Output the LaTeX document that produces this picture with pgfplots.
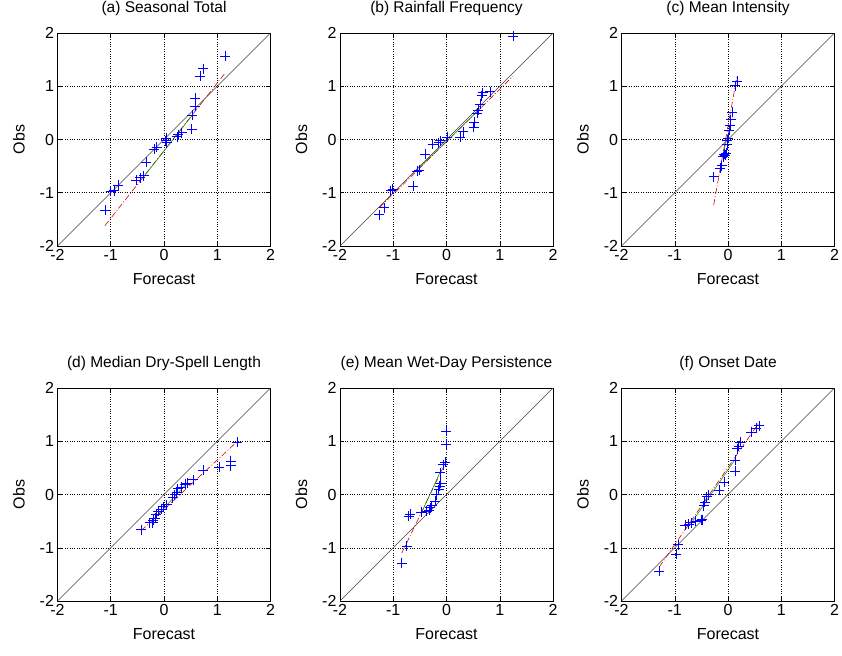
\documentclass[border=0pt]{standalone}
\usepackage{fontspec}
\setmainfont{Liberation Sans}
\usepackage{pgfplots}
\pgfplotsset{compat=1.18}
\pgfplotsset{qq/.style={
  scale only axis, width=213pt, height=213pt,
  xmin=-2,xmax=2,ymin=-2,ymax=2,
  xtick={-2,-1,0,1,2}, ytick={-2,-1,0,1,2},
  grid=major, major grid style={black, dotted, line width=0.5pt},
  tick align=inside, major tick length=4pt, tick style={black,line width=0.5pt},
  axis line style={black,line width=0.7pt},
  /pgf/number format/assume math mode=true,
  tick label style={font=\fontsize{16}{18}\selectfont},
  label style={font=\fontsize{16}{18}\selectfont},
  title style={font=\fontsize{15.5}{18}\selectfont, at={(axis description cs:0.5,1.085)}, anchor=center},
  xlabel=Forecast, ylabel=Obs,
  xlabel style={at={(axis description cs:0.5,-0.157)}, anchor=center},
  ylabel style={at={(axis description cs:-0.181,0.5)}, anchor=center},
}}
\tikzset{
  diagline/.style={black!75, line width=0.5pt},
  fitline/.style={red!85!black, dash pattern=on 6pt off 2pt on 1pt off 2pt, line width=0.6pt},
  quartline/.style={green!55!black, line width=0.5pt},
  pts/.style={only marks, mark=+, mark size=5pt, color=blue, mark options={solid, draw=blue, line width=0.7pt}},
}
\begin{document}
\begin{tikzpicture}
\useasboundingbox (0,0) rectangle (842pt,-655pt);
% (a)
\begin{axis}[qq, at={(57.5pt,-33pt)}, anchor=north west, title={(a) Seasonal Total}]
\addplot[diagline] coordinates {(-2,-2)(2,2)};
\addplot[fitline] coordinates {(-1.11,-1.62)(1.15,1.25)};
\addplot[quartline] coordinates {(-0.39,-0.71)(0.55,0.48)};
\addplot[pts] coordinates {
(-1.11,-1.33)(-1.00,-0.97)(-0.93,-0.96)(-0.86,-0.86)(-0.52,-0.77)(-0.45,-0.72)
(-0.38,-0.68)(-0.33,-0.43)(-0.19,-0.18)(-0.14,-0.14)(0.03,-0.02)(0.04,0.03)
(0.05,-0.06)(0.25,0.05)(0.27,0.09)(0.33,0.13)(0.52,0.19)(0.53,0.46)
(0.58,0.62)(0.59,0.77)(0.68,1.19)(0.74,1.33)(1.15,1.57)};
\end{axis}
% (b)
\begin{axis}[qq, at={(340pt,-33pt)}, anchor=north west, title={(b) Rainfall Frequency}]
\addplot[diagline] coordinates {(-2,-2)(2,2)};
\addplot[fitline] coordinates {(-1.26,-1.28)(1.25,1.19)};
\addplot[quartline] coordinates {(-0.5,-0.52)(0.6,0.55)};
\addplot[pts] coordinates {
(-1.26,-1.41)(-1.17,-1.28)(-1.05,-0.96)(-1.01,-0.93)(-0.62,-0.88)(-0.55,-0.60)
(-0.51,-0.58)(-0.40,-0.27)(-0.26,-0.09)(-0.15,-0.06)(-0.12,-0.02)(0.01,0.04)
(0.26,0.04)(0.31,0.15)(0.51,0.23)(0.52,0.33)(0.57,0.50)(0.60,0.55)
(0.63,0.66)(0.66,0.82)(0.68,0.88)(0.82,0.90)(1.25,1.94)};
\end{axis}
% (c)
\begin{axis}[qq, at={(621.5pt,-33pt)}, anchor=north west, title={(c) Mean Intensity}]
\addplot[diagline] coordinates {(-2,-2)(2,2)};
\addplot[fitline] coordinates {(-0.27,-1.23)(0.17,1.19)};
\addplot[quartline] coordinates {(-0.1,-0.3)(0.05,0.3)};
\addplot[pts] coordinates {
(-0.27,-0.70)(-0.15,-0.54)(-0.12,-0.49)(-0.09,-0.32)(-0.07,-0.28)(-0.04,-0.26)
(-0.05,-0.30)(-0.02,-0.10)(-0.01,-0.01)(0.00,0.02)(0.02,0.18)(0.04,0.27)
(0.05,0.37)(0.08,0.51)(0.13,1.01)(0.17,1.09)};
\end{axis}
% (d)
\begin{axis}[qq, at={(57.5pt,-388pt)}, anchor=north west, title={(d) Median Dry-Spell Length}]
\addplot[diagline] coordinates {(-2,-2)(2,2)};
\addplot[fitline] coordinates {(-0.43,-0.68)(1.38,1.0)};
\addplot[quartline] coordinates {(-0.2,-0.47)(0.42,0.2)};
\addplot[pts] coordinates {
(-0.43,-0.66)(-0.27,-0.53)(-0.21,-0.53)(-0.20,-0.48)(-0.16,-0.44)(-0.15,-0.375)
(-0.11,-0.31)(-0.05,-0.27)(-0.01,-0.23)(0.05,-0.19)(0.16,-0.06)(0.20,0.00)
(0.24,0.04)(0.26,0.11)(0.32,0.14)(0.40,0.19)(0.43,0.21)(0.55,0.28)
(0.74,0.46)(1.04,0.51)(1.25,0.54)(1.25,0.63)(1.38,0.98)};
\end{axis}
% (e)
\begin{axis}[qq, at={(340pt,-388pt)}, anchor=north west, title={(e) Mean Wet-Day Persistence}]
\addplot[diagline] coordinates {(-2,-2)(2,2)};
\addplot[fitline] coordinates {(-0.84,-1.1)(-0.01,0.62)};
\addplot[quartline] coordinates {(-0.45,-0.3)(-0.13,0.4)};
\addplot[pts] coordinates {
(-0.84,-1.29)(-0.75,-0.97)(-0.71,-0.41)(-0.68,-0.375)(-0.48,-0.33)(-0.37,-0.31)
(-0.32,-0.29)(-0.31,-0.25)(-0.28,-0.21)(-0.21,-0.125)(-0.19,0.00)(-0.15,0.09)
(-0.13,0.16)(-0.11,0.21)(-0.12,0.41)(-0.06,0.56)(-0.03,0.61)(-0.01,0.94)
(-0.01,1.19)};
\end{axis}
% (f)
\begin{axis}[qq, at={(621.5pt,-388pt)}, anchor=north west, title={(f) Onset Date}]
\addplot[diagline] coordinates {(-2,-2)(2,2)};
\addplot[fitline] coordinates {(-1.29,-1.36)(0.59,1.36)};
\addplot[quartline] coordinates {(-0.7,-0.55)(0.15,0.68)};
\addplot[pts] coordinates {
(-1.29,-1.44)(-0.97,-1.125)(-0.93,-0.94)(-0.80,-0.58)(-0.74,-0.56)(-0.69,-0.53)
(-0.61,-0.50)(-0.51,-0.48)(-0.48,-0.47)(-0.46,-0.21)(-0.44,-0.14)(-0.40,-0.04)
(-0.36,0.00)(-0.17,0.08)(-0.07,0.23)(0.13,0.44)(0.14,0.64)(0.17,0.86)
(0.20,0.91)(0.23,0.98)(0.43,1.17)(0.53,1.25)(0.59,1.29)};
\end{axis}
\end{tikzpicture}
\end{document}
